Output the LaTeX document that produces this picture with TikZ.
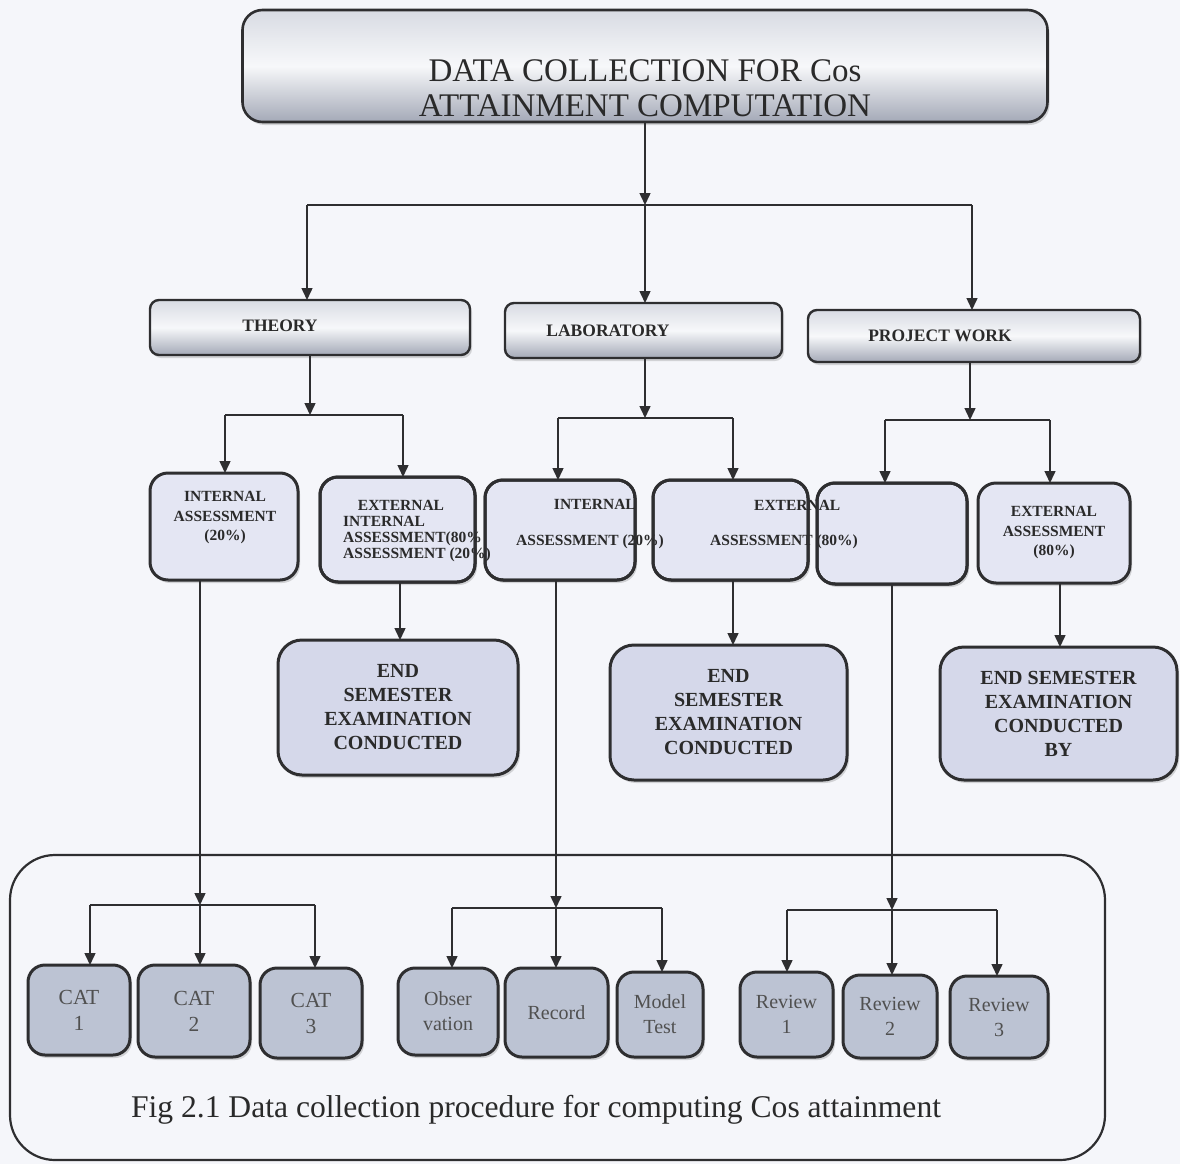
\documentclass[tikz,border=0pt]{standalone}
\usepackage{fontspec}
\setmainfont{Liberation Serif}
\usetikzlibrary{shadows,arrows.meta}
\definecolor{bg}{HTML}{F5F6FA}
\definecolor{bord}{HTML}{2E2E30}
\definecolor{headtop}{HTML}{D8DBE3}
\definecolor{headmid}{HTML}{F7F8FA}
\definecolor{headbot}{HTML}{A4A9B7}
\definecolor{iafill}{HTML}{E4E6F3}
\definecolor{endfill}{HTML}{D5D8EA}
\definecolor{botfill}{HTML}{BCC3D3}
\definecolor{txt}{HTML}{2A2A2A}
\definecolor{greytxt}{HTML}{505050}
\newcommand\myfs[2]{\fontsize{#1}{#2}\selectfont}
\begin{document}
\begin{tikzpicture}[x=1pt,y=-1pt,
  shad/.style={drop shadow={opacity=0.3,shadow xshift=2pt,shadow yshift=-3pt}},
  titlebox/.style={draw=bord,line width=2.6pt,rounded corners=20pt,outer sep=0pt,inner sep=0pt,
    top color=headtop,bottom color=headbot,middle color=headmid,shad},
  headbox/.style={draw=bord,line width=2.4pt,rounded corners=9pt,outer sep=0pt,inner sep=0pt,
    top color=headtop,bottom color=headbot,middle color=headmid,shad},
  iabox/.style={draw=bord,line width=3pt,rounded corners=18pt,outer sep=0pt,inner sep=0pt,
    fill=iafill,shad,align=center,text=txt,font=\bfseries\myfs{15.5}{19.5}},
  endbox/.style={draw=bord,line width=3pt,rounded corners=24pt,outer sep=0pt,inner sep=0pt,
    fill=endfill,shad,align=center,text=txt,font=\bfseries\myfs{20}{24}},
  botbox/.style={draw=bord,line width=3pt,rounded corners=17pt,outer sep=0pt,inner sep=0pt,
    fill=botfill,shad,align=center,text=greytxt,font=\myfs{21.5}{26}},
  headtext/.style={inner sep=0pt,text=txt,font=\bfseries\myfs{17.5}{20}},
  smalltext/.style={inner sep=0pt,text=txt,font=\bfseries\myfs{15.5}{19.5},text height=10.3pt,text depth=0pt},
  restroke/.style={draw=bord,line width=3pt,rounded corners=18pt},
  conn/.style={draw=bord,line width=1.5pt},
  arr/.style={conn,-{Triangle[length=12pt,width=11pt]}}
]
\useasboundingbox (0,0) rectangle (1180,1164);
\fill[bg] (0,0) rectangle (1180,1164);
% outer frame
\draw[bord,line width=2.2pt,rounded corners=45pt] (10,855) rectangle (1105,1160);

% title
\node[titlebox,minimum width=805pt,minimum height=112pt] (title) at (645,66) {};
\node[inner sep=0pt,align=center,text=txt,font=\myfs{33}{35}] (titleT) at (645,88)
  {DATA COLLECTION FOR Cos\\ATTAINMENT COMPUTATION};

% headings
\node[headbox,minimum width=320pt,minimum height=55pt] (theory) at (310,327.5) {};
\node[headbox,minimum width=277pt,minimum height=55pt] (lab) at (643.5,330.5) {};
\node[headbox,minimum width=332pt,minimum height=52pt] (proj) at (974,336) {};
\node[headtext] (theoryT) at (280,326) {THEORY};
\node[headtext] (labT) at (608,331) {LABORATORY};
\node[headtext] (projT) at (940,336) {PROJECT WORK};

% assessment boxes
\node[iabox,minimum width=148pt,minimum height=107pt] (tIA) at (224,526.5) {};
\node[iabox,minimum width=155pt,minimum height=105pt] (tEA) at (397.5,529.5) {};
\node[iabox,minimum width=150pt,minimum height=100pt] (lIA) at (560,530) {};
\node[iabox,minimum width=155pt,minimum height=100pt] (lEA) at (730.5,530) {};
\node[iabox,minimum width=150pt,minimum height=101pt] (pIA) at (892,533.5) {};
\node[iabox,minimum width=152pt,minimum height=100pt] (pEA) at (1054,533) {EXTERNAL\\ASSESSMENT\\(80\%)};

\node[inner sep=0pt,align=center,text=txt,font=\bfseries\myfs{15.5}{19.5}] (tIAT) at (225,518) {INTERNAL\\ASSESSMENT\\(20\%)};
\node[smalltext] (tEAT1) at (401,505) {EXTERNAL};
\node[smalltext,anchor=west] (tEAT2) at (343,521) {INTERNAL};
\node[smalltext,anchor=west] (tEAT3) at (343,537) {ASSESSMENT(80\%};
\node[smalltext,anchor=west] (tEAT4) at (343,553) {ASSESSMENT (20\%)};
\node[smalltext,anchor=east] (lIAT1) at (636,504) {INTERNAL};
\node[smalltext,anchor=west] (lIAT2) at (516,540) {ASSESSMENT (20\%)};
\node[smalltext,anchor=west] (lEAT1) at (754,505) {EXTERNAL};
\node[smalltext,anchor=west] (lEAT2) at (710,540) {ASSESSMENT (80\%)};
% borders on top of the overflowing texts
\draw[restroke] (tEA.north west) rectangle (tEA.south east);
\draw[restroke] (lIA.north west) rectangle (lIA.south east);
\draw[restroke] (lEA.north west) rectangle (lEA.south east);
\draw[restroke] (pIA.north west) rectangle (pIA.south east);

% end semester boxes
\node[endbox,minimum width=240pt,minimum height=135pt] (tEND) at (398,707.5) {END\\SEMESTER\\EXAMINATION\\CONDUCTED};
\node[endbox,minimum width=237pt,minimum height=135pt] (lEND) at (728.5,712.5) {END\\SEMESTER\\EXAMINATION\\CONDUCTED};
\node[endbox,minimum width=237pt,minimum height=133pt] (pEND) at (1058.5,713.5) {END SEMESTER\\EXAMINATION\\CONDUCTED\\BY};

% bottom boxes
\node[botbox,minimum width=102pt,minimum height=90pt] (cat1) at (79,1010) {CAT\\1};
\node[botbox,minimum width=112pt,minimum height=92pt] (cat2) at (194,1011) {CAT\\2};
\node[botbox,minimum width=102pt,minimum height=90pt] (cat3) at (311,1013) {CAT\\3};
\node[botbox,minimum width=100pt,minimum height=87pt,font=\myfs{20}{25}] (obs) at (448,1011.5) {Obser\\vation};
\node[botbox,minimum width=103pt,minimum height=89pt,font=\myfs{20}{25}] (rec) at (556.5,1012.5) {Record};
\node[botbox,minimum width=86pt,minimum height=85pt,font=\myfs{20}{25}] (mod) at (660,1014.5) {Model\\Test};
\node[botbox,minimum width=93pt,minimum height=85pt,font=\myfs{20}{25}] (rev1) at (786.5,1014.5) {Review\\1};
\node[botbox,minimum width=94pt,minimum height=83pt,font=\myfs{20}{25}] (rev2) at (890,1016.5) {Review\\2};
\node[botbox,minimum width=98pt,minimum height=82pt,font=\myfs{20}{25}] (rev3) at (999,1017) {Review\\3};

% caption
\node[inner sep=0pt,text=txt,font=\myfs{31.6}{34}] (cap) at (536,1110) {Fig 2.1 Data collection procedure for computing Cos attainment};

% connectors: level 1
\coordinate (j0) at (645,205);
\coordinate (j0L) at (307,205);
\coordinate (j0R) at (972,205);
\draw[arr] (title.south) -- (j0);
\draw[conn] (j0L) -- (j0R);
\draw[arr] (j0L) -- (j0L |- theory.north);
\draw[arr] (j0) -- (j0 |- lab.north);
\draw[arr] (j0R) -- (j0R |- proj.north);

% theory branch
\coordinate (jT) at (310,415);
\coordinate (jTL) at (225,415);
\coordinate (jTR) at (403,415);
\draw[arr] (theory.south) -- (jT);
\draw[conn] (jTL) -- (jTR);
\draw[arr] (jTL) -- (jTL |- tIA.north);
\draw[arr] (jTR) -- (jTR |- tEA.north);

% lab branch
\coordinate (jL) at (645,418);
\coordinate (jLL) at (558,418);
\coordinate (jLR) at (733,418);
\draw[arr] (jL |- lab.south) -- (jL);
\draw[conn] (jLL) -- (jLR);
\draw[arr] (jLL) -- (jLL |- lIA.north);
\draw[arr] (jLR) -- (jLR |- lEA.north);

% project branch
\coordinate (jP) at (970,420);
\coordinate (jPL) at (885,420);
\coordinate (jPR) at (1050,420);
\draw[arr] (jP |- proj.south) -- (jP);
\draw[conn] (jPL) -- (jPR);
\draw[arr] (jPL) -- (jPL |- pIA.north);
\draw[arr] (jPR) -- (jPR |- pEA.north);

% external -> end semester
\coordinate (xT) at (400,600);
\coordinate (xL) at (733,600);
\coordinate (xP) at (1060,600);
\draw[arr] (xT |- tEA.south) -- (xT |- tEND.north);
\draw[arr] (xL |- lEA.south) -- (xL |- lEND.north);
\draw[arr] (xP |- pEA.south) -- (xP |- pEND.north);

% internal -> bottom items
\coordinate (jB1) at (200,905);
\coordinate (jB1L) at (90,905);
\coordinate (jB1R) at (315,905);
\draw[arr] (jB1 |- tIA.south) -- (jB1);
\draw[conn] (jB1L) -- (jB1R);
\draw[arr] (jB1L) -- (jB1L |- cat1.north);
\draw[arr] (jB1) -- (jB1 |- cat2.north);
\draw[arr] (jB1R) -- (jB1R |- cat3.north);

\coordinate (jB2) at (556,908);
\coordinate (jB2L) at (452,908);
\coordinate (jB2R) at (662,908);
\draw[arr] (jB2 |- lIA.south) -- (jB2);
\draw[conn] (jB2L) -- (jB2R);
\draw[arr] (jB2L) -- (jB2L |- obs.north);
\draw[arr] (jB2) -- (jB2 |- rec.north);
\draw[arr] (jB2R) -- (jB2R |- mod.north);

\coordinate (jB3) at (892,910);
\coordinate (jB3L) at (787,910);
\coordinate (jB3R) at (997,910);
\draw[arr] (jB3 |- pIA.south) -- (jB3);
\draw[conn] (jB3L) -- (jB3R);
\draw[arr] (jB3L) -- (jB3L |- rev1.north);
\draw[arr] (jB3) -- (jB3 |- rev2.north);
\draw[arr] (jB3R) -- (jB3R |- rev3.north);
\end{tikzpicture}
\end{document}
